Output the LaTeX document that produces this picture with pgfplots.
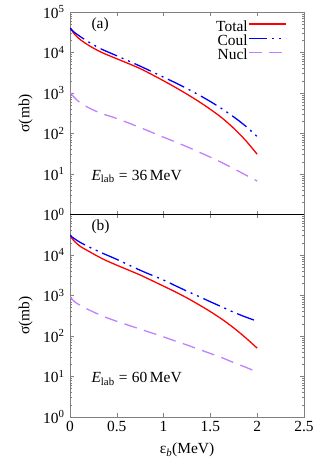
\documentclass[border=0pt]{standalone}
\usepackage{fontspec}
\setmainfont{Liberation Serif}
\usepackage{pgfplots}
\pgfplotsset{compat=1.18}
\definecolor{nuclc}{HTML}{C080FF}
\definecolor{framec}{HTML}{808080}
\newcommand{\fs}{\fontsize{15.5}{17}\selectfont}

\pgfplotstableread{
x tot coul nucl
0     4.0e4  4.0e4  1000
0.02  3.5e4  3.6e4  900
0.05  2.8e4  3.1e4  760
0.107 2.1e4  2.5e4  580
0.21  1.45e4 1.75e4 420
0.34  1.0e4  1.2e4  310
0.5   7.0e3  8.3e3  235
0.75  4.0e3  4.6e3  140
1.0   2.0e3  2.45e3 81
1.125 1.38e3 1.795e3 62
1.25  935    1.285e3 47
1.375 618    900    35
1.5   395    615    26
1.625 241    406    19
1.75  134    256    13.5
1.875 68     153    9.5
2.0   30.7   84     6.7
}\topdata

\pgfplotstableread{
x tot coul nucl
0     3.0e4  3.1e4  930
0.02  2.6e4  2.8e4  820
0.05  2.15e4 2.5e4  700
0.107 1.65e4 2.06e4 575
0.21  1.2e4  1.55e4 433
0.35  8.0e3  1.1e4  310
0.5   5.6e3  7.8e3  230
0.75  3.2e3  4.2e3  148
1.0   1.7e3  2.4e3  95
1.125 1.23e3 1.75e3 75
1.25  870    1.28e3 60
1.375 596    950    47
1.5   400    700    37
1.625 258    520    29
1.75  158    385    22
1.875 91     295    17
2.0   50     232    12.8
}\botdata

\pgfplotsset{every axis/.append style={
  scale only axis, width=234bp, height=202.5bp,
  xmin=0, xmax=2.5, ymin=1, ymax=1e5,
  xtick={0,0.5,1,1.5,2,2.5},
  ytick={1,10,100,1000,10000,100000},
  minor ytick={2,3,4,5,6,7,8,9,20,30,40,50,60,70,80,90,200,300,400,500,600,700,800,900,2000,3000,4000,5000,6000,7000,8000,9000,20000,30000,40000,50000,60000,70000,80000,90000},
  tick align=inside, xtick pos=both, ytick pos=both,
  major tick length=4bp, minor tick length=2bp,
  axis line style={framec},
  tick style={framec, line width=0.5bp},
  tick label style={font=\fs},
  label style={font=\fs},
  yticklabel style={xshift=-2bp},
  xticklabel style={yshift=-1bp},
  ylabel={σ(mb)},
  ylabel style={at={(axis description cs:-0.19,0.5)}, anchor=center},
  legend style={draw=none, fill=none, font=\fs, inner sep=0pt,
    at={(axis description cs:0.927,0.96)}, anchor=north east,
    row sep=1bp, nodes={inner sep=0.5bp}},
  legend cell align=right,
  legend plot pos=right,
}}
\pgfplotsset{legend image code/.code={\draw[#1, line width=1.5bp] (0bp,0.6ex) -- (37bp,0.6ex);}}
\tikzset{
  coulpat/.style={dash pattern=on 18bp off 5bp on 2bp off 5bp on 2bp off 5bp},
  nuclpat/.style={dash pattern=on 13bp off 7.5bp},
}

\begin{document}
\begin{tikzpicture}
\begin{axis}[ymode=log, name=bot, at={(0,0)}, anchor=south west,
  xticklabels={0,0.5,1,1.5,2,2.5},
  xlabel={ε\textsubscript{\textit{b}}(MeV)},
  xlabel style={at={(axis description cs:0.5,-0.163)}, anchor=center},
  yticklabels={10\textsuperscript{0},10\textsuperscript{1},10\textsuperscript{2},10\textsuperscript{3},10\textsuperscript{4},{}},
]
\addplot[red, line width=1.3bp, smooth] table[x=x,y=tot] {\botdata};
\addplot[blue, line width=1.3bp, coulpat, smooth] table[x=x,y=coul] {\botdata};
\addplot[nuclc, line width=1.3bp, nuclpat, smooth] table[x=x,y=nucl] {\botdata};
\node[anchor=west, font=\fs] at (rel axis cs:0.077,0.937) {(b)};
\node[anchor=west, font=\fs] at (rel axis cs:0.077,0.188) {\textit{E}\textsubscript{lab}\;=\;60\,MeV};
\end{axis}
\begin{axis}[ymode=log, name=top, at={(0,202.5bp)}, anchor=south west,
  xticklabels={},
  yticklabels={10\textsuperscript{0},10\textsuperscript{1},10\textsuperscript{2},10\textsuperscript{3},10\textsuperscript{4},10\textsuperscript{5}},
]
\addplot[red, line width=1.3bp, smooth] table[x=x,y=tot] {\topdata};
\addlegendentry{Total}
\addplot[blue, line width=1.3bp, coulpat, smooth] table[x=x,y=coul] {\topdata};
\addlegendentry{Coul}
\addplot[nuclc, line width=1.3bp, nuclpat, smooth] table[x=x,y=nucl] {\topdata};
\addlegendentry{Nucl}
\node[anchor=west, font=\fs] at (rel axis cs:0.077,0.937) {(a)};
\node[anchor=west, font=\fs] at (rel axis cs:0.077,0.188) {\textit{E}\textsubscript{lab}\;=\;36\,MeV};
\end{axis}
\draw[black, line width=0.6bp] (bot.north west) -- (bot.north east);
\pgfresetboundingbox
\path[use as bounding box] (-70bp,-44bp) rectangle (246bp,417bp);
\end{tikzpicture}
\end{document}
